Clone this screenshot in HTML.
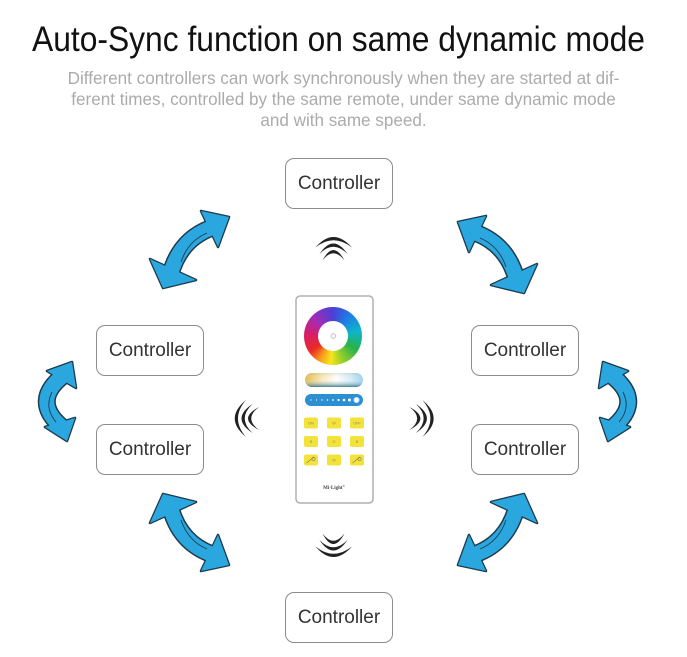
<!DOCTYPE html>
<html>
<head>
<meta charset="utf-8">
<style>
  html,body{margin:0;padding:0;background:#fff;}
  body{width:687px;height:657px;position:relative;overflow:hidden;font-family:"Liberation Sans",Arial,sans-serif;}
  .title{position:absolute;left:32px;top:20px;font-size:35px;line-height:40px;color:#111;white-space:nowrap;transform-origin:0 0;transform:scaleX(0.908);}
  .sub{position:absolute;left:0;top:68px;width:687px;text-align:center;font-size:17.1px;line-height:21px;color:#ababab;}
  .box{position:absolute;width:106px;height:49px;border:1.3px solid #8c8c8c;border-radius:9px;background:#fff;display:flex;align-items:center;justify-content:center;font-size:19px;color:#333;}
  .wheel{position:absolute;left:304px;top:307px;width:58px;height:58px;border-radius:50%;
    background:conic-gradient(#4b3fd6 0deg,#1c7fe6 40deg,#0fb5c9 80deg,#27b24a 120deg,#9bd12a 160deg,#f7e51c 185deg,#f79a1c 210deg,#ea2a24 235deg,#d61f6a 275deg,#a02cb8 315deg,#4b3fd6 360deg);}
  .hole{position:absolute;left:318px;top:321px;width:30px;height:30px;border-radius:50%;background:#fff;}
  svg{position:absolute;left:0;top:0;}
</style>
</head>
<body>
<div class="title">Auto-Sync function on same dynamic mode</div>
<div class="sub">Different controllers can work synchronously when they are started at dif-<br>ferent times, controlled by the same remote, under same dynamic mode<br>and with same speed.</div>

<div class="box" style="left:285px;top:158px;">Controller</div>
<div class="box" style="left:96px;top:325px;">Controller</div>
<div class="box" style="left:96px;top:424px;">Controller</div>
<div class="box" style="left:471px;top:325px;">Controller</div>
<div class="box" style="left:471px;top:424px;">Controller</div>
<div class="box" style="left:285px;top:592px;">Controller</div>

<svg width="687" height="657" viewBox="0 0 687 657">
  <defs>
    <g id="tl">
      <g fill="#1e3b4c" stroke="#1e3b4c" stroke-width="2.6" stroke-linejoin="round">
        <path d="M170,276 Q179,240 211,228" fill="none" stroke-width="18"/>
        <polygon points="229,217 201,211 218,247"/>
        <polygon points="163,288 150,259 196,280"/>
      </g>
      <g fill="#2ba7df">
        <path d="M170,276 Q179,240 211,228" fill="none" stroke="#2ba7df" stroke-width="15"/>
        <polygon points="229,217 201,211 218,247"/>
        <polygon points="163,288 150,259 196,280"/>
      </g>
      <path d="M181,262 Q188,241 207,233" fill="none" stroke="#1e3b4c" stroke-width="0.9"/>
    </g>
    <g id="la">
      <g fill="#1e3b4c" stroke="#1e3b4c" stroke-width="2.6" stroke-linejoin="round">
        <path d="M64,375 Q30,401 63,428" fill="none" stroke-width="18"/>
        <polygon points="72,362 47,371 76,388"/>
        <polygon points="67,441 45,427 75,418"/>
      </g>
      <g fill="#2ba7df">
        <path d="M64,375 Q30,401 63,428" fill="none" stroke="#2ba7df" stroke-width="15"/>
        <polygon points="72,362 47,371 76,388"/>
        <polygon points="67,441 45,427 75,418"/>
      </g>
      <path d="M52,392 Q44,408 56,422" fill="none" stroke="#1e3b4c" stroke-width="0.9"/>
    </g>
    <g id="wt" fill="#222">
      <path d="M315.5,247.5 Q333.3,226.5 352,247.5 Q333.3,233 315.5,247.5 Z"/>
      <path d="M319.5,254 Q333.3,233 347.5,254 Q333.3,239.5 319.5,254 Z"/>
      <path d="M322.5,260.5 Q333.3,239.5 344.5,260.5 Q333.3,246 322.5,260.5 Z"/>
    </g>
    <g id="wl" fill="#222">
      <path d="M246,400 Q223.5,418.5 246,437 Q230,418.5 246,400 Z"/>
      <path d="M252.5,404 Q230.5,418.5 252.5,433 Q237,418.5 252.5,404 Z"/>
      <path d="M259,407 Q237,418.5 259,430 Q243.5,418.5 259,407 Z"/>
    </g>
    <linearGradient id="cct" x1="0" y1="0" x2="1" y2="0">
      <stop offset="0" stop-color="#e6b94c"/>
      <stop offset="0.3" stop-color="#f8eac0"/>
      <stop offset="0.55" stop-color="#ffffff"/>
      <stop offset="0.8" stop-color="#d2ebf7"/>
      <stop offset="1" stop-color="#9ed2ee"/>
    </linearGradient>
    <linearGradient id="cctv" x1="0" y1="0" x2="0" y2="1">
      <stop offset="0" stop-color="#5a7a30" stop-opacity="0.15"/>
      <stop offset="0.45" stop-color="#ffffff" stop-opacity="0"/>
      <stop offset="1" stop-color="#2b6f80" stop-opacity="0.85"/>
    </linearGradient>
  </defs>

  <!-- arrows -->
  <use href="#tl"/>
  <use href="#tl" transform="translate(687,5) scale(-1,1)"/>
  <use href="#tl" transform="translate(0,782) scale(1,-1)"/>
  <use href="#tl" transform="translate(687,782) scale(-1,-1)"/>
  <use href="#la"/>
  <use href="#la" transform="translate(675,0) scale(-1,1)"/>

  <!-- waves -->
  <use href="#wt"/>
  <use href="#wt" transform="translate(0,794) scale(1,-1)"/>
  <use href="#wl"/>
  <use href="#wl" transform="translate(668.4,0) scale(-1,1)"/>

  <!-- remote body -->
  <rect x="296" y="296" width="77" height="207" rx="4" fill="#fff" stroke="#b0b0b0" stroke-width="1.5"/>
  <!-- CCT bar -->
  <rect x="305" y="373" width="58" height="14" rx="7" fill="url(#cct)"/>
  <rect x="305" y="373" width="58" height="14" rx="7" fill="url(#cctv)"/>
  <!-- brightness slider -->
  <rect x="305" y="394" width="58" height="12" rx="6" fill="#2b8fd1"/>
  <g fill="#fff">
    <circle cx="311" cy="400" r="0.6"/>
    <circle cx="316.5" cy="400" r="0.6"/>
    <circle cx="322" cy="400" r="0.7"/>
    <circle cx="327.5" cy="400" r="0.8"/>
    <circle cx="333" cy="400" r="0.9"/>
    <circle cx="338.5" cy="400" r="1.1"/>
    <circle cx="344" cy="400" r="1.3"/>
    <circle cx="349.5" cy="400" r="1.5"/>
    <circle cx="356.5" cy="400" r="3" fill="#cfe8f8"/>
    <circle cx="356.5" cy="400" r="1.8"/>
  </g>
  <!-- buttons -->
  <g fill="#f2e23a">
    <rect x="304" y="417.5" width="14" height="11" rx="2"/>
    <rect x="327" y="417.5" width="14" height="11" rx="2"/>
    <rect x="350" y="417.5" width="14" height="11" rx="2"/>
    <rect x="304" y="436" width="14" height="11" rx="2"/>
    <rect x="327" y="436" width="14" height="11" rx="2"/>
    <rect x="350" y="436" width="14" height="11" rx="2"/>
    <rect x="304" y="454.5" width="14" height="11" rx="2"/>
    <rect x="327" y="454.5" width="14" height="11" rx="2"/>
    <rect x="350" y="454.5" width="14" height="11" rx="2"/>
  </g>
  <g font-family="Liberation Sans, sans-serif" font-size="3.6" fill="#8a8a6a" text-anchor="middle">
    <text x="311" y="424.3">ON</text>
    <text x="334" y="424.3">W</text>
    <text x="357" y="424.3">OFF</text>
    <text x="311" y="442.8">R</text>
    <text x="334" y="442.8">G</text>
    <text x="357" y="442.8">B</text>
    <text x="334" y="461.3">M</text>
  </g>
  <g stroke="#7a7a5a" stroke-width="0.6" fill="none">
    <path d="M306.5,463 L314,457"/>
    <circle cx="313.5" cy="459" r="1.6"/>
    <path d="M352.5,463 L360,457"/>
    <circle cx="359.5" cy="459" r="1.6"/>
  </g>
  <text x="334" y="489" font-family="Liberation Serif, serif" font-weight="bold" font-size="5" fill="#444" text-anchor="middle">Mi·Light<tspan font-size="3" dy="-2">®</tspan></text>
</svg>

<div class="wheel"></div>
<div class="hole"></div>
<svg width="687" height="657" viewBox="0 0 687 657" style="pointer-events:none">
  <circle cx="333.3" cy="336" r="2.3" fill="#fff" stroke="#b8b8b8" stroke-width="0.8"/>
</svg>
</body>
</html>
